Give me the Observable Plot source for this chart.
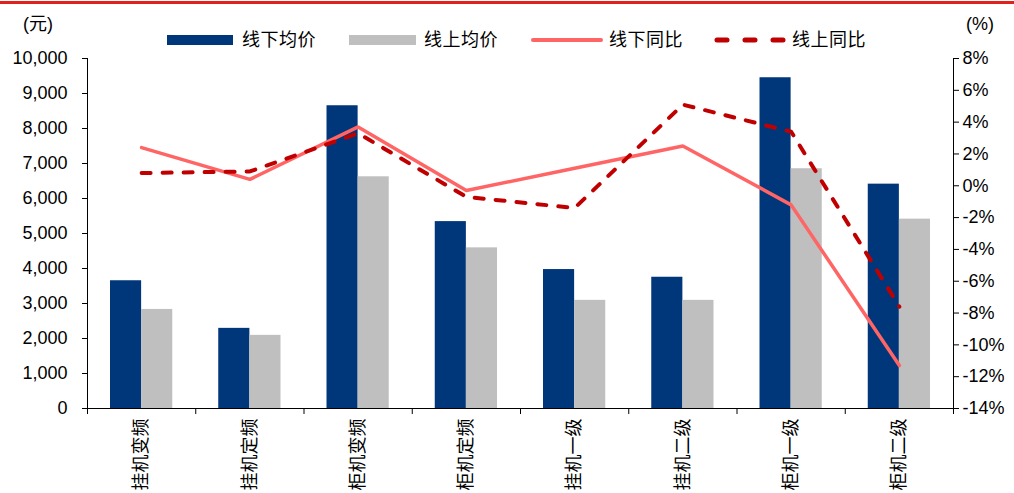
<!DOCTYPE html>
<html><head><meta charset="utf-8">
<script src="https://cdn.jsdelivr.net/npm/d3@7"></script>
<script src="https://cdn.jsdelivr.net/npm/@observablehq/plot@0.6"></script>
<style>
body{margin:0;background:#fff;}
#wrap{position:relative;width:1014px;height:493px;font-family:"Liberation Sans","Noto Sans CJK SC",Arial,sans-serif;color:#000;}
#topline{position:absolute;left:0;top:1px;width:1014px;height:3px;background:#e3211c;}
#head{position:relative;height:40px;}
.t{position:absolute;font-size:18px;line-height:18px;font-family:"Liberation Sans","Noto Sans CJK SC",sans-serif;white-space:nowrap;}
.sw{position:absolute;}
#chart svg{display:block;overflow:visible;}
</style></head>
<body><div id="wrap"><div id="topline"></div><div id="head"></div><div id="chart"></div></div>
<script>
const categories = ["挂机变频","挂机定频","柜机变频","柜机定频","挂机一级","挂机二级","柜机一级","柜机二级"];
const offlinePrice = [3650,2290,8650,5340,3970,3750,9450,6410];
const onlinePrice  = [2830,2090,6620,4590,3090,3090,6850,5410];
const offlineYoY = [2.4,0.4,3.7,-0.3,1.1,2.5,-1.2,-11.3];
const onlineYoY  = [0.8,0.9,3.3,-0.7,-1.4,5.1,3.4,-7.6];
const leftTicks = d3.range(0, 10001, 1000);
const rightTicks = d3.range(-14, 9, 2);
const seriesNames = ["线下均价","线上均价","线下同比","线上同比"];
const unitLeft = "(元)", unitRight = "(%)";

const C = {navy:"#00377a", gray:"#bfbfbf", red:"#ff6565", dark:"#c00000"};
const pMin = -14, pMax = 8, yMax = 10000;
const toLeft = p => (p - pMin) / (pMax - pMin) * yMax;
const fromLeft = v => Math.round(v / yMax * (pMax - pMin) + pMin);

// header (units + legend)
const head = document.getElementById("head");
function add(html){ head.insertAdjacentHTML("beforeend", html); }
add(`<div class="t" style="left:23px;top:15px">${unitLeft}</div>`);
add(`<div class="t" style="left:966px;top:15px">${unitRight}</div>`);
add(`<div class="sw" style="left:167px;top:35px;width:66px;height:10px;background:${C.navy}"></div>`);
add(`<div class="t" style="left:242px;top:31px;letter-spacing:0.5px">${seriesNames[0]}</div>`);
add(`<div class="sw" style="left:349px;top:35px;width:67px;height:10px;background:${C.gray}"></div>`);
add(`<div class="t" style="left:424px;top:31px;letter-spacing:0.5px">${seriesNames[1]}</div>`);
add(`<svg class="sw" style="left:530px;top:34px" width="74" height="12"><line x1="3" x2="71" y1="6" y2="6" stroke="${C.red}" stroke-width="4" stroke-linecap="round"/></svg>`);
add(`<div class="t" style="left:609px;top:31px;letter-spacing:0.5px">${seriesNames[2]}</div>`);
add(`<svg class="sw" style="left:713px;top:34px" width="74" height="12"><line x1="4" x2="70" y1="6" y2="6" stroke="${C.dark}" stroke-width="5" stroke-linecap="round" stroke-dasharray="10,18"/></svg>`);
add(`<div class="t" style="left:792px;top:31px;letter-spacing:0.5px">${seriesNames[3]}</div>`);

const rows = categories.map((c, i) => ({i, c, off: offlinePrice[i], on: onlinePrice[i], offY: offlineYoY[i], onY: onlineYoY[i]}));
const gapFrac = 0.2125, barFrac = 0.2875;

const chart = Plot.plot({
  width: 1014, height: 453,
  marginTop: 18, marginBottom: 85, marginLeft: 87, marginRight: 61,
  style: {fontFamily: '"Liberation Sans","Noto Sans CJK SC",sans-serif', fontSize: "18px", color: "#000", background: "#fff", overflow: "visible"},
  x: {type: "linear", domain: [0, categories.length]},
  y: {domain: [0, yMax]},
  marks: [
    Plot.rectY(rows, {x1: d => d.i + gapFrac, x2: d => d.i + gapFrac + barFrac, y1: 0, y2: "off", fill: C.navy}),
    Plot.rectY(rows, {x1: d => d.i + gapFrac + barFrac, x2: d => d.i + gapFrac + 2 * barFrac, y1: 0, y2: "on", fill: C.gray}),
    Plot.line(rows, {x: d => d.i + 0.5, y: d => toLeft(d.offY), stroke: C.red, strokeWidth: 3.5, strokeLinejoin: "miter"}),
    Plot.line(rows, {x: d => d.i + 0.5, y: d => toLeft(d.onY), stroke: C.dark, strokeWidth: 4, strokeDasharray: "9,12", strokeLinecap: "round"}),
    Plot.ruleY([0], {stroke: "#000"}),
    Plot.ruleX([0, categories.length], {stroke: "#000"}),
    Plot.axisY({anchor: "left", ticks: leftTicks, tickFormat: d3.format(","), tickSize: 5, tickPadding: 15, label: null}),
    Plot.axisY({anchor: "right", ticks: rightTicks.map(toLeft), tickFormat: v => fromLeft(v) + "%", tickSize: 5, tickPadding: 4, label: null}),
    Plot.axisX({ticks: d3.range(0, categories.length + 1), tickFormat: () => "", tickSize: 6, label: null}),
    Plot.axisX({ticks: d3.range(categories.length).map(i => i + 0.5), tickFormat: v => categories[Math.floor(v)], tickSize: 0, tickPadding: 10, tickRotate: -90, label: null, fontFamily: '"Noto Sans CJK SC",sans-serif', style: {letterSpacing: "1px"}})
  ]
});
document.getElementById("chart").appendChild(chart);
</script></body></html>
